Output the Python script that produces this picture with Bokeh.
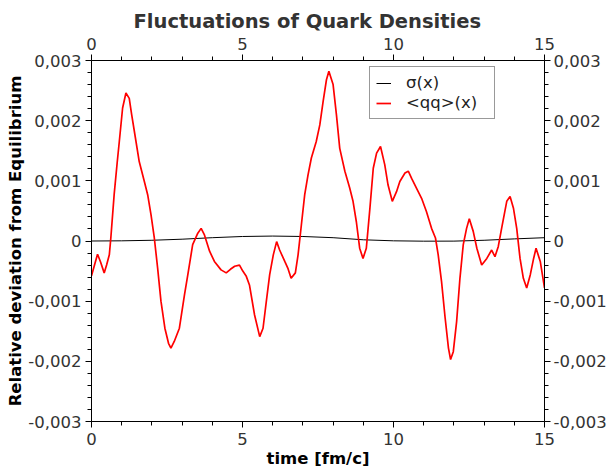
from bokeh.plotting import figure
from bokeh.models import LinearAxis, FixedTicker, CustomJSTickFormatter, Range1d
from bokeh.embed import file_html
from bokeh.resources import INLINE

# ---- data ----
x_qq = [0.00, 0.10, 0.20, 0.30, 0.42, 0.50, 0.59, 0.64, 0.75, 0.85, 0.92, 1.03, 1.14, 1.25, 1.33,
        1.42, 1.58, 1.75, 1.86, 1.97, 2.08, 2.19, 2.30, 2.43, 2.55, 2.63, 2.74, 2.91, 3.08, 3.19,
        3.35, 3.52, 3.63, 3.74, 3.91, 4.07, 4.29, 4.46, 4.60, 4.74, 4.90, 5.01, 5.12, 5.23, 5.40,
        5.57, 5.68, 5.79, 5.90, 6.02, 6.13, 6.23, 6.40, 6.50, 6.61, 6.75, 6.84, 6.95, 7.06, 7.17,
        7.28, 7.44, 7.56, 7.67, 7.78, 7.86, 8.00, 8.11, 8.22, 8.39, 8.55, 8.66, 8.77, 8.88, 8.99,
        9.10, 9.22, 9.33, 9.44, 9.57, 9.71, 9.82, 9.96, 10.10, 10.21, 10.38, 10.49, 10.60, 10.76,
        10.93, 11.09, 11.26, 11.39, 11.48, 11.59, 11.71, 11.82, 11.89, 11.98, 12.09, 12.20, 12.31,
        12.42, 12.51, 12.64, 12.76, 12.92, 13.09, 13.25, 13.36, 13.47, 13.58, 13.75, 13.86, 13.97,
        14.08, 14.19, 14.30, 14.41, 14.53, 14.64, 14.72, 14.86, 15.00]
y_qq = [-0.00058, -0.00040, -0.00022, -0.00035, -0.00053, -0.00040, -0.00023, 0.00005, 0.00077,
        0.00130, 0.00165, 0.00221, 0.00246, 0.00237, 0.00210, 0.00182, 0.00132, 0.00099, 0.00077,
        0.00044, 0.00005, -0.00045, -0.00100, -0.00145, -0.00170, -0.00178, -0.00167, -0.00145,
        -0.00089, -0.00056, -0.00006, 0.00013, 0.00021, 0.00010, -0.00017, -0.00034, -0.00048,
        -0.00053, -0.00047, -0.00042, -0.00040, -0.00050, -0.00058, -0.00073, -0.00123, -0.00159,
        -0.00145, -0.00100, -0.00056, -0.00023, -0.00001, -0.00015, -0.00034, -0.00045, -0.00062,
        -0.00053, -0.00023, 0.00027, 0.00077, 0.00110, 0.00138, 0.00165, 0.00193, 0.00232, 0.00268,
        0.00282, 0.00260, 0.00210, 0.00154, 0.00116, 0.00088, 0.00066, 0.00032, -0.00012, -0.00029,
        -0.00012, 0.00055, 0.00121, 0.00146, 0.00157, 0.00127, 0.00093, 0.00066, 0.00082, 0.00099,
        0.00113, 0.00116, 0.00104, 0.00088, 0.00071, 0.00049, 0.00021, 0.00005, -0.00023, -0.00067,
        -0.00128, -0.00178, -0.00197, -0.00184, -0.00134, -0.00062, -0.00006, 0.00021, 0.00037,
        0.00016, -0.00012, -0.00040, -0.00029, -0.00015, -0.00026, -0.00009, 0.00021, 0.00066,
        0.00074, 0.00055, 0.00021, -0.00029, -0.00062, -0.00078, -0.00056, -0.00029, -0.00012,
        -0.00034, -0.00078]

x_sigma = [0, 1, 2, 3, 4, 5, 6, 7, 8, 9, 10, 11, 12, 13, 14, 15]
y_sigma = [0.0, 0.000003, 0.000012, 0.000030, 0.000055, 0.000075, 0.000082, 0.000075, 0.000055,
           0.000020, 0.000003, -0.000003, -0.000002, 0.000012, 0.000035, 0.000055]

x_ticks = [0, 5, 10, 15]
x_minor = [1, 2, 3, 4, 6, 7, 8, 9, 11, 12, 13, 14]
y_ticks = [-0.003, -0.002, -0.001, 0.0, 0.001, 0.002, 0.003]
y_tick_labels = ["-0,003", "-0,002", "-0,001", "0", "0,001", "0,002", "0,003"]
y_minor = [round(-0.003 + 0.0002 * i, 4) for i in range(31)]

title_text = "Fluctuations of Quark Densities"
x_label = "time [fm/c]"
y_label = "Relative deviation from Equilibrium"
series_names = ["σ(x)", "<qq>(x)"]

FONT = "DejaVu Sans"
LBL = "16.5px"

p = figure(width=609, height=470,
           x_range=Range1d(0, 15), y_range=Range1d(-0.003, 0.003),
           output_backend="svg", toolbar_location=None,
           min_border_left=91, min_border_right=65, min_border_top=60, min_border_bottom=49)
p.outline_line_color = None
p.xgrid.visible = False
p.ygrid.visible = False

p.title.text = title_text
p.title.align = "left"
p.title.offset = 42
p.title.standoff = 4
p.title.text_font = FONT
p.title.text_font_size = "19.5px"
p.title.text_font_style = "bold"
p.title.text_color = "#333333"

y_fmt = CustomJSTickFormatter(args=dict(tvals=y_ticks, tlabels=y_tick_labels), code="""
let best = 0, bd = 1e9;
for (let i = 0; i < tvals.length; i++) {
  const d = Math.abs(tvals[i] - tick);
  if (d < bd) { bd = d; best = i; }
}
return tlabels[best];
""")

def style_axis(ax, ticks, minor, standoff):
    ax.ticker = FixedTicker(ticks=ticks, minor_ticks=minor)
    ax.axis_line_color = "black"
    ax.major_tick_line_color = "black"
    ax.minor_tick_line_color = "black"
    ax.major_tick_in = 0
    ax.major_tick_out = 6
    ax.minor_tick_in = 0
    ax.minor_tick_out = 4
    ax.major_label_text_font = FONT
    ax.major_label_text_font_size = LBL
    ax.major_label_text_color = "#333333"
    ax.major_label_standoff = standoff

xb = p.xaxis[0]
style_axis(xb, x_ticks, x_minor, 5)
xb.axis_label = x_label
xb.axis_label_text_font = FONT
xb.axis_label_text_font_size = LBL
xb.axis_label_text_font_style = "bold"
xb.axis_label_text_color = "black"
xb.axis_label_standoff = 1

yl = p.yaxis[0]
style_axis(yl, y_ticks, y_minor, 4)
yl.formatter = y_fmt
yl.axis_label = y_label
yl.axis_label_text_font = FONT
yl.axis_label_text_font_size = LBL
yl.axis_label_text_font_style = "bold"
yl.axis_label_text_color = "black"
yl.axis_label_standoff = 0

xt = LinearAxis()
style_axis(xt, x_ticks, x_minor, 5)
p.add_layout(xt, "above")

yr = LinearAxis()
style_axis(yr, y_ticks, y_minor, 3)
yr.formatter = y_fmt
p.add_layout(yr, "right")

p.line(x_sigma, y_sigma, line_color="black", line_width=1, legend_label=series_names[0])
p.line(x_qq, y_qq, line_color="red", line_width=1.7, legend_label=series_names[1])

lg = p.legend[0]
lg.location = (278, 302)
lg.border_line_color = "#333333"
lg.border_line_width = 1
lg.background_fill_alpha = 1
lg.label_text_font = FONT
lg.label_text_font_size = LBL
lg.label_text_color = "#222222"
lg.padding = 6
lg.spacing = 1
lg.margin = 0
lg.glyph_width = 15
lg.glyph_height = 18
lg.label_height = 18
lg.label_standoff = 15
lg.label_width = 82

open("out.html", "w").write(file_html(p, INLINE))
